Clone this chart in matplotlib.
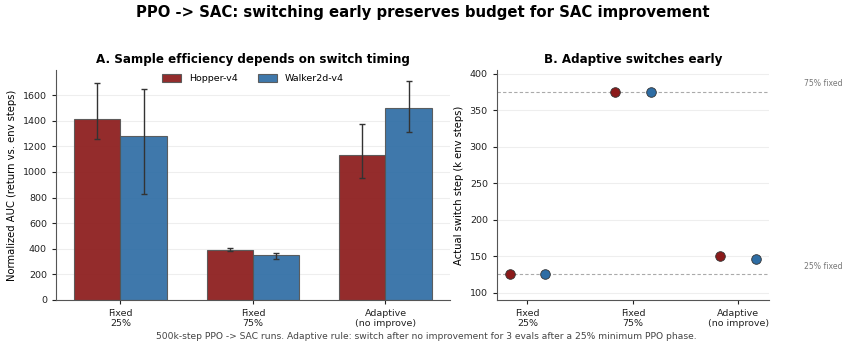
import numpy as np
import matplotlib.pyplot as plt

# switch strategies and environments
strategies = ['Fixed\n25%', 'Fixed\n75%', 'Adaptive\n(no improve)']
envs = ['Hopper-v4', 'Walker2d-v4']
colors = ['#8B1A1A', '#2E6DA4']

# normalized AUC: mean with lower / upper ends of the spread over seeds
auc_hopper = [1410, 393, 1130]
auc_hopper_lo = [1260, 385, 953]
auc_hopper_hi = [1697, 404, 1377]
auc_walker = [1279, 349, 1497]
auc_walker_lo = [830, 323, 1315]
auc_walker_hi = [1651, 365, 1711]

# step at which the switch actually happened (k env steps)
switch_hopper = [125, 375, 150]
switch_walker = [125, 375, 146]
fixed_lines = [125, 375]
fixed_names = ['25% fixed', '75% fixed']

fig = plt.figure(figsize=(8.45, 3.48), dpi=100)
axA = fig.add_axes([0.0663, 0.138, 0.466, 0.661])
axB = fig.add_axes([0.588, 0.138, 0.322, 0.661])

x = np.arange(len(strategies))
w = 0.35

# A: AUC bars
series = [(auc_hopper, auc_hopper_lo, auc_hopper_hi), (auc_walker, auc_walker_lo, auc_walker_hi)]
for i, (vals, lo, hi) in enumerate(series):
    vals = np.array(vals)
    yerr = [vals - np.array(lo), np.array(hi) - vals]
    axA.bar(x + (i - 0.5) * w, vals, w, yerr=yerr, color=colors[i], alpha=0.92,
            edgecolor='#555555', linewidth=0.8, label=envs[i],
            error_kw=dict(ecolor='#333333', elinewidth=1.0, capsize=2.5, capthick=1.0))
axA.set_xticks(x)
axA.set_xticklabels(strategies)
axA.set_ylabel('Normalized AUC (return vs. env steps)', fontsize=7.2)
axA.set_title('A. Sample efficiency depends on switch timing', fontsize=8.6,
              fontweight='bold', pad=5)
axA.legend(loc='upper center', ncol=2, frameon=False, fontsize=6.8,
           handlelength=2.0, handleheight=0.9, columnspacing=2.2,
           bbox_to_anchor=(0.5, 1.02))

# B: switch steps
for i, vals in enumerate([switch_hopper, switch_walker]):
    axB.scatter(x + (i - 0.5) * 0.34, vals, s=48, color=colors[i],
                edgecolor='#333333', linewidth=0.6, zorder=3)
for y, name in zip(fixed_lines, fixed_names):
    axB.axhline(y, color='#aaaaaa', linestyle=(0, (3, 2)), linewidth=0.8, zorder=1)
    axB.text(1.13, y + 5, name, transform=axB.get_yaxis_transform(),
             fontsize=5.6, color='#777777', va='bottom', ha='left')
axB.set_xticks(x)
axB.set_xticklabels(strategies)
axB.set_xlim(-0.29, 2.29)
axB.set_ylim(90, 405)
axB.set_ylabel('Actual switch step (k env steps)', fontsize=7.2)
axB.set_title('B. Adaptive switches early', fontsize=8.6, fontweight='bold', pad=5)

for ax in (axA, axB):
    ax.tick_params(labelsize=6.8, length=3, colors='#222222')
    ax.grid(axis='y', color='#eeeeee', linewidth=0.8)
    ax.set_axisbelow(True)
    for s in ('top', 'right'):
        ax.spines[s].set_visible(False)
    for s in ('left', 'bottom'):
        ax.spines[s].set_color('#555555')

fig.suptitle('PPO -> SAC: switching early preserves budget for SAC improvement',
             fontsize=10.7, fontweight='bold', y=0.985)
fig.text(0.505, 0.026, '500k-step PPO -> SAC runs. Adaptive rule: switch after no improvement '
         'for 3 evals after a 25% minimum PPO phase.', ha='center', fontsize=6.6, color='#444444')

fig.savefig('out.png', dpi=100)
